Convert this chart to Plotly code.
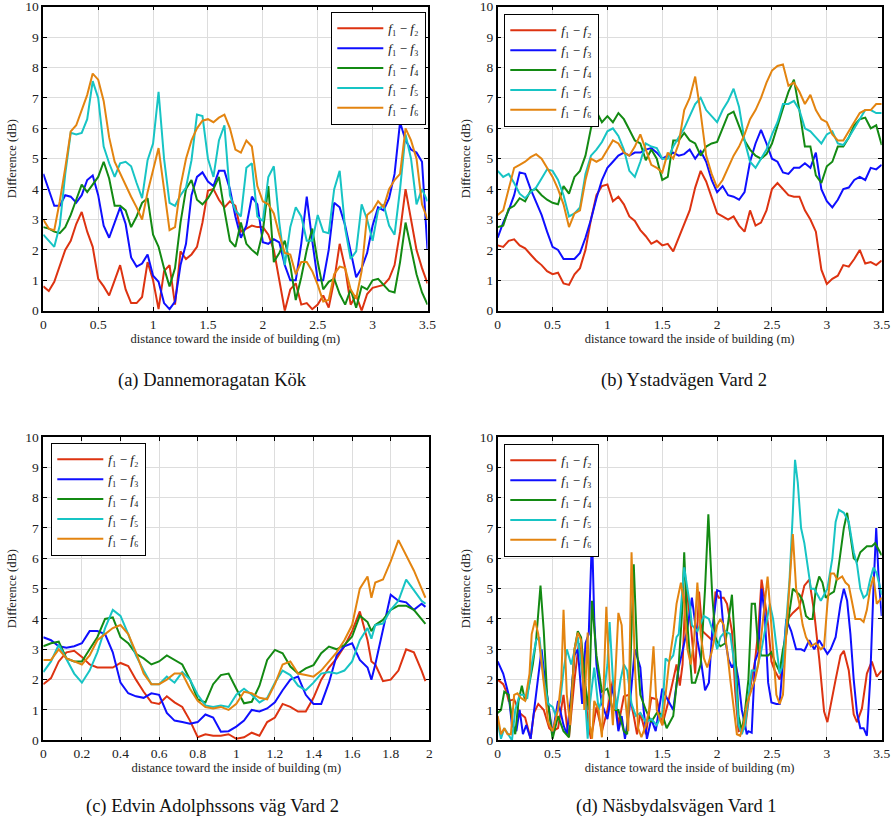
import plotly.graph_objects as go

# ---------------- series data ----------------
# (a) Dannemoragatan Kök, samples every 0.05 m
A_X = [round(0.05 * i, 2) for i in range(71)]
A_F2 = [0.8, 0.65, 0.95, 1.5, 2.0, 2.3, 2.85, 3.25, 2.6, 2.1,
        1.05, 0.8, 0.5, 1.0, 1.5, 0.7, 0.25, 0.25, 0.45, 1.6,
        1.0, 0.05, 1.3, 1.5, 0.2, 1.95, 1.7, 1.85, 2.1, 2.9,
        3.95, 4.0, 3.65, 3.4, 3.6, 3.45, 2.6, 2.7, 2.8, 2.75,
        2.75, 2.5, 2.0, 1.0, 0.0, 0.7, 0.9, 0.2, 0.25, 0.05,
        0.2, 0.5, 0.1, 1.0, 2.2, 1.4, 0.2, 0.5, 0.0, 0.55,
        0.75, 0.8, 0.85, 1.05, 1.5, 2.6, 4.0, 3.0, 2.0, 1.4,
        0.9]
A_F3 = [4.5, 4.0, 3.45, 3.45, 3.8, 3.75, 3.55, 3.8, 4.3, 4.45,
        3.8, 2.8, 2.4, 2.9, 3.4, 2.85, 1.75, 1.45, 1.55, 1.85,
        1.15, 0.95, 0.25, 0.05, 0.3, 1.5, 2.2, 3.8, 4.4, 4.55,
        4.25, 4.1, 4.6, 4.6, 4.0, 3.1, 2.4, 2.8, 3.75, 3.5,
        2.25, 2.2, 2.35, 2.25, 1.5, 1.0, 1.0, 2.2, 3.75, 2.3,
        1.0, 1.0, 2.0, 3.55, 3.4, 2.8, 1.9, 1.1, 1.4, 1.9,
        2.8, 3.4, 3.3, 3.7, 4.5, 6.2, 5.6, 5.3, 5.2, 4.9,
        2.0]
A_F4 = [2.75, 2.7, 2.6, 2.55, 2.75, 3.15, 3.65, 4.15, 3.9, 4.15,
        4.4, 4.9, 4.35, 3.45, 3.45, 3.3, 2.75, 3.1, 3.55, 3.7,
        2.5, 2.1, 1.4, 0.8, 1.4, 2.9, 4.0, 4.3, 3.65, 3.5,
        3.7, 4.0, 4.4, 3.3, 2.3, 2.1, 2.9, 2.2, 2.0, 1.85,
        2.6, 4.1, 1.6, 1.9, 2.3, 1.5, 0.35, 1.1, 2.0, 2.7,
        1.6, 0.7, 0.95, 1.05, 0.55, 0.2, 0.7, 0.1, 0.8, 0.7,
        1.0, 1.05, 0.85, 0.65, 0.6, 1.6, 2.9, 2.0, 1.2, 0.6,
        0.2]
A_F5 = [2.5, 2.3, 2.1, 2.8, 4.5, 5.85, 5.8, 5.85, 6.3, 7.55,
        7.0, 5.4, 4.85, 4.4, 4.85, 4.9, 4.75, 4.2, 3.7, 4.95,
        5.5, 7.2, 5.0, 3.55, 3.45, 3.8, 4.05, 4.95, 6.45, 6.4,
        5.0, 4.4, 5.6, 6.1, 3.8, 3.3, 3.1, 4.7, 4.85, 3.1,
        2.95, 4.4, 4.75, 2.9, 1.5, 2.75, 3.4, 3.1, 2.3, 2.3,
        3.15, 2.6, 2.55, 4.0, 4.6, 2.7, 1.7, 1.95, 3.5, 3.0,
        2.3, 3.3, 3.5, 2.8, 2.5, 4.0, 5.8, 5.0, 3.5, 4.0,
        3.6]
A_F6 = [3.0, 2.7, 2.65, 3.6, 4.7, 5.9, 6.1, 6.6, 7.1, 7.8,
        7.6, 6.9, 5.7, 4.9, 4.5, 4.1, 3.75, 3.4, 3.0, 3.9,
        4.6, 5.35, 4.0, 2.65, 2.75, 4.1, 5.0, 5.6, 6.0, 6.25,
        6.3, 6.2, 6.35, 6.45, 6.0, 5.3, 5.2, 5.6, 5.4, 4.1,
        3.6, 3.5, 3.2, 2.5, 1.9, 1.85, 1.2, 1.6, 1.6, 1.3,
        0.85, 0.3, 0.35, 1.2, 1.45, 1.4, 0.7, 0.4, 1.3, 3.15,
        3.3, 3.6, 3.4, 4.0, 4.3, 4.5, 6.0, 5.6, 5.0, 3.5,
        3.0]

# (b) Ystadvägen Vard 2, samples every 0.05 m
B_X = [round(0.05 * i, 2) for i in range(71)]
B_F2 = [2.15, 2.1, 2.3, 2.35, 2.15, 2.05, 1.85, 1.65, 1.5, 1.3,
        1.2, 1.25, 0.9, 0.85, 1.2, 1.4, 2.0, 3.0, 3.8, 4.1,
        4.15, 3.6, 3.75, 3.5, 3.1, 2.95, 2.65, 2.45, 2.2, 2.3,
        2.15, 2.2, 1.95, 2.4, 2.85, 3.3, 4.05, 4.6, 4.25, 3.7,
        3.2, 3.1, 3.0, 3.1, 2.8, 2.6, 3.3, 2.8, 2.9, 3.3,
        4.0, 4.2, 4.0, 3.8, 3.75, 3.75, 3.3, 3.0, 2.6, 1.35,
        0.88, 1.05, 1.15, 1.5, 1.45, 1.7, 2.0, 1.55, 1.6, 1.5,
        1.65]
B_F3 = [2.4, 2.9, 3.3, 3.8, 4.55, 4.5, 4.0, 3.6, 3.15, 2.6,
        2.1, 2.0, 1.7, 1.7, 1.7, 1.9, 2.4, 3.0, 3.7, 4.3,
        4.7, 4.9, 5.1, 5.2, 5.1, 5.2, 5.2, 5.3, 5.35, 5.2,
        5.0, 5.1, 5.2, 5.1, 5.15, 5.3, 5.0, 5.25, 4.9, 4.3,
        3.9, 4.1, 3.8, 3.75, 3.65, 3.9, 4.9, 5.5, 5.95, 5.5,
        5.0, 4.9, 4.55, 4.5, 4.7, 4.7, 4.85, 4.7, 5.2, 4.0,
        3.6, 3.4, 3.65, 4.0, 4.05, 4.3, 4.4, 4.3, 4.7, 4.65,
        4.8]
B_F4 = [2.75, 2.8, 3.35, 3.45, 3.7, 3.6, 3.95, 4.0, 3.8, 3.65,
        3.55, 3.5, 4.1, 3.85, 4.4, 4.6, 5.1, 6.0, 6.55, 6.2,
        6.4, 6.2, 6.5, 6.3, 5.95, 5.6, 5.5, 4.95, 5.3, 5.0,
        4.3, 4.4, 5.6, 5.6, 5.85, 5.6, 5.5, 5.1, 5.4, 5.5,
        5.55, 6.0, 6.45, 6.55, 6.1, 5.6, 5.3, 5.1, 5.0, 5.15,
        5.5, 6.1, 6.65, 7.2, 7.6, 6.6, 5.4, 5.4, 4.45, 4.2,
        4.75, 4.9, 5.4, 5.4, 5.7, 6.1, 6.3, 6.35, 6.0, 6.1,
        5.45]
B_F5 = [4.6, 4.4, 4.5, 4.2, 3.85, 3.7, 3.9, 4.05, 4.35, 4.65,
        4.6, 4.3, 3.8, 3.1, 3.2, 3.4, 4.5, 5.1, 5.3, 5.55,
        5.9, 6.0, 5.75, 5.3, 4.6, 4.4, 4.9, 5.5, 5.4, 5.35,
        5.0, 5.0, 5.4, 5.7, 6.0, 6.4, 6.8, 7.0, 6.6, 6.4,
        6.2, 6.6, 6.9, 7.3, 6.7, 5.6, 4.9, 4.7, 5.0, 5.3,
        5.8, 6.2, 6.8, 6.8, 6.9, 6.6, 6.0, 5.9, 5.7, 5.5,
        5.8, 5.9, 5.5, 5.45, 5.7, 6.0, 6.3, 6.6, 6.6, 6.5,
        6.5]
B_F6 = [3.15, 3.3, 4.0, 4.7, 4.8, 4.9, 5.05, 5.15, 5.0, 4.7,
        4.4, 4.0, 3.5, 2.75, 3.2, 3.3, 4.3, 5.0, 4.9, 5.0,
        5.3, 5.6, 5.5, 5.2, 5.1, 5.4, 5.8, 5.3, 4.8, 4.7,
        4.55, 5.2, 5.0, 5.5, 6.6, 7.0, 7.7, 6.5, 5.1, 4.5,
        4.05, 4.3, 4.7, 5.1, 5.4, 5.8, 6.3, 6.6, 7.0, 7.5,
        7.9, 8.05, 8.1, 7.4, 7.5, 7.2, 6.8, 7.1, 6.6, 6.3,
        6.2, 5.8, 5.6, 5.6, 5.9, 6.2, 6.5, 6.6, 6.6, 6.8,
        6.8]

# (c) Edvin Adolphssons väg Vard 2
C_X = ([round(0.04 * i, 2) for i in range(43)] + [1.70]
       + [round(1.72 + 0.04 * i, 2) for i in range(7)] + [1.98])
C_F2 = [1.85, 2.05, 2.6, 2.9, 2.95, 2.75, 2.5, 2.4, 2.4, 2.4,
        2.55, 2.45, 2.0, 1.6, 1.25, 1.2, 1.45, 1.25, 1.1, 0.65,
        0.1, 0.2, 0.15, 0.15, 0.2, 0.05, 0.1, 0.25, 0.15, 0.6,
        0.75, 1.2, 1.1, 0.95, 0.95, 1.4, 2.0, 2.4, 2.7, 3.1,
        3.6, 4.25, 3.3, 2.6,
        2.5, 1.95, 2.0, 2.3, 3.0, 2.9, 2.3, 1.95]
C_F3 = [3.4, 3.3, 3.1, 3.05, 3.1, 3.2, 3.6, 3.6, 3.5, 2.9,
        1.9, 1.55, 1.45, 1.4, 1.55, 1.5, 0.9, 0.65, 0.6, 0.55,
        0.6, 0.85, 0.75, 0.28, 0.3, 0.45, 0.65, 1.0, 0.95, 1.05,
        1.25, 1.65, 2.0, 2.1, 1.5, 1.2, 1.2, 1.9, 2.8, 3.1,
        3.2, 2.65, 2.4, 2.0,
        2.5, 3.6, 4.8, 4.6, 4.55, 4.3, 4.5, 4.4]
C_F4 = [3.1, 3.2, 3.25, 2.7, 2.6, 2.6, 3.0, 3.4, 4.0, 4.05,
        3.4, 3.2, 2.85, 2.7, 2.5, 2.6, 2.8, 2.65, 2.5, 2.0,
        1.35, 1.25, 1.85, 2.15, 2.2, 1.7, 1.22, 1.27, 1.8, 2.65,
        2.98, 2.87, 2.43, 2.2, 2.37, 2.48, 2.87, 3.09, 3.0, 3.14,
        3.42, 4.11, 3.9, 3.6,
        3.8, 3.97, 4.3, 4.44, 4.44, 4.3, 4.0, 3.84]
C_F5 = [2.25, 2.6, 3.15, 2.7, 2.2, 1.9, 2.3, 2.9, 3.7, 4.3,
        4.1, 3.5, 2.8, 2.3, 1.85, 1.85, 2.1, 1.9, 2.25, 2.0,
        1.5, 1.15, 1.1, 1.15, 1.1, 1.5, 1.7, 1.5, 1.25, 1.4,
        1.9, 2.3, 2.15, 1.8, 1.65, 1.9, 2.2, 2.25, 2.2, 2.3,
        2.6, 3.3, 3.7, 3.35,
        3.8, 3.85, 4.3, 4.6, 5.3, 4.95, 4.6, 4.5]
C_F6 = [2.65, 2.65, 3.0, 2.7, 2.6, 2.5, 2.8, 3.3, 3.5, 3.7,
        3.8, 3.5, 2.9, 2.2, 1.85, 1.85, 2.0, 2.2, 2.2, 1.7,
        1.3, 1.1, 1.05, 1.1, 1.0, 1.2, 1.6, 1.55, 1.4, 1.35,
        1.85, 2.5, 2.6, 2.2, 2.15, 2.1, 2.3, 2.6, 2.9, 3.3,
        3.8, 5.0, 5.4, 4.7,
        5.2, 5.3, 5.9, 6.6, 6.1, 5.6, 5.0, 4.7]

# (d) Näsbydalsvägen Vard 1, irregular sampling per series
D_F2_X = [0, 0.05, 0.08, 0.1, 0.15, 0.2, 0.25, 0.28, 0.3, 0.33, 0.37, 0.42, 0.47, 0.5, 0.55,
          0.6, 0.63, 0.65, 0.7, 0.74, 0.78, 0.82, 0.85, 0.9, 0.95, 1.0, 1.05, 1.08, 1.1, 1.15,
          1.2, 1.24, 1.27, 1.3, 1.35, 1.4, 1.45, 1.5, 1.55, 1.6, 1.63, 1.66, 1.685, 1.715, 1.76,
          1.8, 1.835, 1.865, 1.925, 1.955, 1.985, 2.015, 2.06, 2.09, 2.135, 2.165, 2.195, 2.255,
          2.3, 2.345, 2.375, 2.405, 2.435, 2.465, 2.495, 2.525, 2.57, 2.6, 2.645, 2.69, 2.75,
          2.795, 2.84, 2.885, 2.93, 2.975, 3.005, 3.035, 3.08, 3.125, 3.155, 3.2, 3.245, 3.275,
          3.32, 3.365, 3.41, 3.455, 3.5]
D_F2 = [2.0, 1.85, 1.6, 1.3, 1.35, 0.9, 0.75, 0.3, 0.05, 0.9, 1.2, 1.0, 0.4, 0.3, 0.4,
        1.5, 0.5, 0.1, 2.0, 3.2, 2.5, 0.6, 0.05, 1.1, 0.3, 1.0, 2.0, 1.2, 0.5, 1.45,
        1.5, 0.8, 0.2, 0.9, 0.2, 1.4, 1.35, 0.5, 1.2, 2.0, 2.5, 1.8, 2.5, 5.2, 3.8,
        2.2, 4.9, 3.6, 3.4, 3.3, 4.9, 4.7, 4.7, 4.5, 3.6, 1.6, 0.3, 0.4,
        1.7, 2.6, 3.6, 5.3, 4.6, 3.8, 2.6, 2.3, 2.0, 2.5, 4.0, 4.2, 4.4,
        5.1, 5.3, 4.2, 2.7, 0.95, 0.6, 1.2, 2.0, 2.8, 2.95, 2.3, 0.85, 0.6,
        1.05, 2.2, 2.6, 2.1, 2.3]

D_F3_X = [0, 0.05, 0.1, 0.13, 0.17, 0.2, 0.23, 0.26, 0.3, 0.35, 0.4, 0.43, 0.47, 0.5, 0.55,
          0.6, 0.63, 0.67, 0.7, 0.73, 0.77, 0.8, 0.83, 0.86, 0.88, 0.9, 0.95, 1.0, 1.05, 1.1,
          1.13, 1.16, 1.2, 1.25, 1.3, 1.33, 1.36, 1.4, 1.44, 1.48, 1.5, 1.54, 1.6, 1.65, 1.725,
          1.77, 1.82, 1.85, 1.89, 1.925, 1.955, 2.0, 2.03, 2.06, 2.105, 2.135, 2.165, 2.195,
          2.225, 2.255, 2.27, 2.285, 2.315, 2.345, 2.375, 2.405, 2.435, 2.465, 2.495, 2.54,
          2.57, 2.6, 2.63, 2.675, 2.72, 2.765, 2.795, 2.84, 2.885, 2.93, 2.975, 3.005, 3.035,
          3.08, 3.125, 3.155, 3.185, 3.215, 3.245, 3.275, 3.305, 3.335, 3.365, 3.395, 3.425,
          3.45, 3.47, 3.5]
D_F3 = [2.6, 2.2, 1.5, 0.5, 0.3, 1.0, 0.2, 0.5, 0.05, 1.5, 3.0, 2.0, 0.9, 0.2, 1.3,
        0.5, 0.2, 1.5, 2.8, 3.0, 1.2, 3.2, 3.5, 6.8, 4.0, 2.5, 1.2, 0.7, 1.8, 0.3,
        0.8, 0.05, 1.0, 3.0, 2.4, 1.0, 0.05, 0.7, 0.3, 1.2, 1.7, 1.4, 1.0, 2.4, 3.6,
        4.7, 3.3, 2.7, 1.65, 1.9, 3.6, 4.95, 4.9, 3.6, 2.65, 2.4, 2.6, 2.0,
        1.0, 0.5, 0.2, 0.3, 0.25, 2.6, 2.9, 5.0, 4.1, 1.9, 1.25, 1.2,
        1.2, 2.6, 4.0, 3.6, 3.0, 3.0, 2.95, 3.3, 3.0, 3.3, 3.05, 2.85, 3.0,
        3.4, 4.5, 5.0, 4.6, 3.5, 2.0, 0.9, 0.4, 0.4, 0.15, 2.0, 5.0,
        7.0, 5.5, 4.1]

D_F4_X = [0, 0.03, 0.06, 0.1, 0.13, 0.16, 0.19, 0.22, 0.25, 0.28, 0.32, 0.35, 0.39, 0.42, 0.45,
          0.48, 0.5, 0.55, 0.6, 0.65, 0.7, 0.73, 0.76, 0.8, 0.83, 0.86, 0.9, 0.95, 1.0, 1.05,
          1.1, 1.15, 1.18, 1.21, 1.24, 1.27, 1.3, 1.35, 1.4, 1.45, 1.5, 1.54, 1.6, 1.65, 1.68,
          1.7, 1.725, 1.77, 1.8, 1.85, 1.89, 1.92, 1.955, 1.985, 2.0, 2.03, 2.075, 2.105, 2.135,
          2.165, 2.195, 2.225, 2.255, 2.285, 2.315, 2.345, 2.375, 2.405, 2.435, 2.465, 2.495,
          2.525, 2.57, 2.6, 2.63, 2.66, 2.69, 2.72, 2.75, 2.78, 2.81, 2.84, 2.87, 2.9, 2.93,
          2.96, 2.99, 3.02, 3.065, 3.095, 3.125, 3.155, 3.185, 3.215, 3.245, 3.275, 3.305,
          3.335, 3.365, 3.41, 3.44, 3.47, 3.5]
D_F4 = [0.9, 1.0, 1.6, 1.5, 0.7, 0.2, 1.3, 1.8, 1.3, 1.7, 2.5, 3.3, 5.1, 3.6, 1.5,
        0.5, 0.05, 0.8, 0.3, 0.1, 3.0, 3.6, 3.4, 1.8, 1.0, 4.6, 2.8, 1.6, 1.7, 1.0,
        1.0, 0.3, 0.2, 2.5, 5.8, 3.0, 1.5, 1.0, 0.6, 0.9, 0.85, 0.4, 0.8, 2.5, 4.2,
        6.2, 4.0, 1.9, 1.9, 2.5, 5.0, 7.45, 4.8, 3.4, 3.25, 3.1, 3.2, 4.0, 4.8,
        3.0, 0.8, 0.3, 1.0, 2.0, 4.5, 4.5, 3.0, 2.8, 2.8, 2.8, 2.9,
        2.6, 2.26, 3.0, 3.5, 4.3, 5.0, 4.9, 4.8, 4.6, 4.1, 4.0, 4.0, 5.0, 5.4,
        5.2, 4.7, 4.8, 4.9, 5.4, 6.2, 7.0, 7.5, 6.8, 6.0, 5.9, 6.2,
        6.3, 6.4, 6.4, 6.5, 6.3, 6.1]

D_F5_X = [0, 0.03, 0.06, 0.1, 0.13, 0.16, 0.2, 0.23, 0.27, 0.31, 0.35, 0.38, 0.42, 0.46, 0.5,
          0.53, 0.57, 0.6, 0.63, 0.67, 0.7, 0.73, 0.76, 0.8, 0.82, 0.84, 0.88, 0.92, 0.97, 1.0,
          1.02, 1.05, 1.08, 1.12, 1.15, 1.18, 1.22, 1.26, 1.3, 1.35, 1.4, 1.45, 1.5, 1.53, 1.56,
          1.6, 1.63, 1.65, 1.7, 1.75, 1.77, 1.82, 1.88, 1.925, 1.97, 2.0, 2.03, 2.075, 2.12,
          2.165, 2.195, 2.225, 2.255, 2.285, 2.315, 2.36, 2.405, 2.45, 2.48, 2.51, 2.54, 2.57,
          2.6, 2.63, 2.66, 2.69, 2.71, 2.735, 2.765, 2.795, 2.825, 2.855, 2.885, 2.915, 2.945,
          2.975, 3.005, 3.05, 3.08, 3.11, 3.155, 3.2, 3.245, 3.275, 3.305, 3.335, 3.365, 3.395,
          3.425, 3.455, 3.5]
D_F5 = [0.6, 0.05, 0.4, 0.15, 0.0, 1.0, 1.5, 1.5, 1.4, 2.5, 3.3, 3.4, 2.0, 1.2, 1.1,
        0.8, 1.3, 2.3, 3.0, 2.5, 3.0, 3.4, 2.5, 1.2, 0.05, 1.2, 2.4, 1.0, 1.6, 2.5,
        3.9, 2.0, 1.0, 2.0, 2.5, 2.3, 1.2, 0.8, 0.9, 0.6, 0.7, 0.5, 0.9, 2.7, 2.6,
        2.8, 3.4, 3.5, 5.7, 4.5, 3.8, 3.6, 4.1, 4.0, 3.5, 3.0, 3.4, 3.6, 3.5,
        2.3, 0.5, 0.2, 0.5, 1.5, 2.3, 2.3, 3.0, 3.9, 4.5, 4.0, 3.0, 2.2,
        2.5, 4.0, 5.3, 7.5, 9.25, 8.5, 7.0, 6.5, 5.7, 5.0, 5.0, 4.8, 4.6,
        4.8, 5.0, 6.0, 7.2, 7.6, 7.5, 7.2, 6.2, 5.8, 5.0, 4.7, 4.8, 5.3,
        5.7, 5.5, 4.8]

D_F6_X = [0, 0.03, 0.06, 0.09, 0.12, 0.15, 0.18, 0.21, 0.25, 0.29, 0.31, 0.34, 0.37, 0.4, 0.43,
          0.46, 0.5, 0.55, 0.58, 0.6, 0.63, 0.66, 0.7, 0.73, 0.76, 0.79, 0.82, 0.84, 0.86, 0.88,
          0.92, 0.95, 0.99, 1.02, 1.05, 1.1, 1.13, 1.16, 1.19, 1.22, 1.25, 1.28, 1.31, 1.35,
          1.38, 1.42, 1.45, 1.5, 1.53, 1.56, 1.6, 1.63, 1.67, 1.7, 1.73, 1.76, 1.79, 1.82,
          1.85, 1.88, 1.91, 1.95, 2.0, 2.03, 2.06, 2.09, 2.12, 2.15, 2.18, 2.21, 2.24, 2.27,
          2.315, 2.345, 2.375, 2.405, 2.435, 2.46, 2.48, 2.51, 2.54, 2.57, 2.6, 2.63, 2.66,
          2.69, 2.72, 2.75, 2.78, 2.81, 2.855, 2.9, 2.945, 2.975, 3.005, 3.035, 3.065, 3.095,
          3.14, 3.17, 3.2, 3.23, 3.26, 3.305, 3.335, 3.365, 3.395, 3.425, 3.455, 3.5]
D_F6 = [0.8, 0.2, 0.4, 0.2, 0.2, 1.5, 1.55, 1.4, 1.3, 2.2, 3.5, 3.95, 3.5, 2.5, 1.5,
        0.6, 0.3, 1.0, 2.0, 4.3, 1.5, 0.5, 3.0, 3.55, 3.3, 1.0, 3.55, 0.5, 0.05, 1.3,
        1.0, 0.1, 4.4, 2.0, 0.5, 4.2, 3.8, 1.5, 0.3, 6.2, 2.5, 0.4, 0.1, 0.5,
        1.0, 3.1, 1.0, 0.5, 1.5, 2.5, 3.5, 4.5, 5.2, 4.5, 3.0, 2.5, 3.3, 5.2,
        3.5, 2.7, 2.4, 2.9, 3.8, 4.0, 3.8, 3.0, 2.0, 1.0, 0.2, 0.15, 0.5, 1.2,
        1.7, 2.0, 2.5, 3.5, 4.5, 5.4, 4.5, 3.0, 1.5, 1.2, 1.5, 3.5, 5.0,
        6.8, 5.0, 4.5, 3.8, 3.4, 3.1, 3.2, 3.0, 3.1, 4.5, 5.5, 5.5, 5.3,
        5.4, 5.2, 5.1, 4.5, 4.0, 4.0, 3.9, 4.3, 5.0, 5.4, 4.5, 4.7]

# ---------------- styling ----------------
COLORS = ["#dd3311", "#0f0fff", "#138a13", "#17c4c4", "#e38410"]
SUBS = {2: "₂", 3: "₃", 4: "₄", 5: "₅", 6: "₆"}
NAMES = ["<i>f</i>₁ − <i>f</i>%s" % SUBS[k] for k in range(2, 7)]
FONT = "Liberation Serif"

panels = [
    # axis suffix, x data per series, y data per series, x-domain, y-domain, ticks
    ("", [A_X] * 5, [A_F2, A_F3, A_F4, A_F5, A_F6],
     [43.3 / 892, 427.5 / 892], [1 - 310.7 / 824, 1 - 6.7 / 824], "m35"),
    ("2", [B_X] * 5, [B_F2, B_F3, B_F4, B_F5, B_F6],
     [497.7 / 892, 881.7 / 892], [1 - 310.7 / 824, 1 - 6.7 / 824], "m35"),
    ("3", [C_X] * 5, [C_F2, C_F3, C_F4, C_F5, C_F6],
     [43.3 / 892, 429.3 / 892], [1 - 740.3 / 824, 1 - 437.0 / 824], "m2"),
    ("4", [D_F2_X, D_F3_X, D_F4_X, D_F5_X, D_F6_X], [D_F2, D_F3, D_F4, D_F5, D_F6],
     [497.7 / 892, 881.7 / 892], [1 - 740.3 / 824, 1 - 437.0 / 824], "m35"),
]

legend_pos = {
    "legend": dict(x=426 / 892, y=1 - 12 / 824, xanchor="right"),
    "legend2": dict(x=504 / 892, y=1 - 14 / 824, xanchor="left"),
    "legend3": dict(x=51 / 892, y=1 - 443 / 824, xanchor="left"),
    "legend4": dict(x=504 / 892, y=1 - 444 / 824, xanchor="left"),
}

fig = go.Figure()
layout = dict(
    width=892, height=824,
    margin=dict(l=0, r=0, t=0, b=0),
    paper_bgcolor="white", plot_bgcolor="white",
    font=dict(family=FONT, size=13, color="#222"),
    showlegend=True,
)

for idx, (suf, xs, ys, xdom, ydom, tick) in enumerate(panels):
    lg = "legend" if suf == "" else "legend" + suf
    for k in range(5):
        fig.add_trace(go.Scatter(
            x=xs[k], y=ys[k], mode="lines", name=NAMES[k],
            line=dict(color=COLORS[k], width=2),
            xaxis="x" + suf, yaxis="y" + suf, legend=lg,
        ))
    if tick == "m35":
        tv = [0, 0.5, 1, 1.5, 2, 2.5, 3, 3.5]
        tt = ["0", "0.5", "1", "1.5", "2", "2.5", "3", "3.5"]
        xr = [0, 3.5]
    else:
        tv = [0, 0.2, 0.4, 0.6, 0.8, 1, 1.2, 1.4, 1.6, 1.8, 2]
        tt = ["0", "0.2", "0.4", "0.6", "0.8", "1", "1.2", "1.4", "1.6", "1.8", "2"]
        xr = [0, 2]
    common = dict(showline=True, linecolor="black", linewidth=1.5, mirror="ticks",
                  ticks="inside", ticklen=4, tickcolor="black", tickwidth=1,
                  showgrid=True, gridcolor="#dddddd", gridwidth=1, zeroline=False,
                  automargin=False, ticklabeloverflow="allow",
                  tickfont=dict(family=FONT, size=13.5, color="#222"))
    layout["xaxis" + suf] = dict(
        common, domain=xdom, range=xr, tickvals=tv, ticktext=tt,
        anchor="y" + suf,
        title=dict(text="distance toward the inside of building (m)",
                   font=dict(family=FONT, size=12.5, color="#222"), standoff=2),
    )
    layout["yaxis" + suf] = dict(
        common, domain=ydom, range=[0, 10], tickvals=list(range(11)),
        anchor="x" + suf,
        title=dict(text="Difference (dB)",
                   font=dict(family=FONT, size=12.5, color="#222"), standoff=6),
    )
    layout[lg] = dict(
        legend_pos[lg], yanchor="top", bgcolor="white", bordercolor="black",
        borderwidth=1.3, font=dict(family=FONT, size=13, color="#111"),
        itemwidth=46, tracegroupgap=0,
    )

CAPTIONS = ["(a) Dannemoragatan Kök", "(b) Ystadvägen Vard 2",
            "(c) Edvin Adolphssons väg Vard 2", "(d) Näsbydalsvägen Vard 1"]
cap_xy = [(212, 381), (684, 381), (212, 806), (676, 806)]
layout["annotations"] = [
    dict(text=t, x=cx / 892, y=1 - cy / 824, xref="paper", yref="paper",
         xanchor="center", yanchor="middle", showarrow=False,
         font=dict(family=FONT, size=18.5, color="#111"))
    for t, (cx, cy) in zip(CAPTIONS, cap_xy)
]

fig.update_layout(**layout)
fig.write_html("out.html")
